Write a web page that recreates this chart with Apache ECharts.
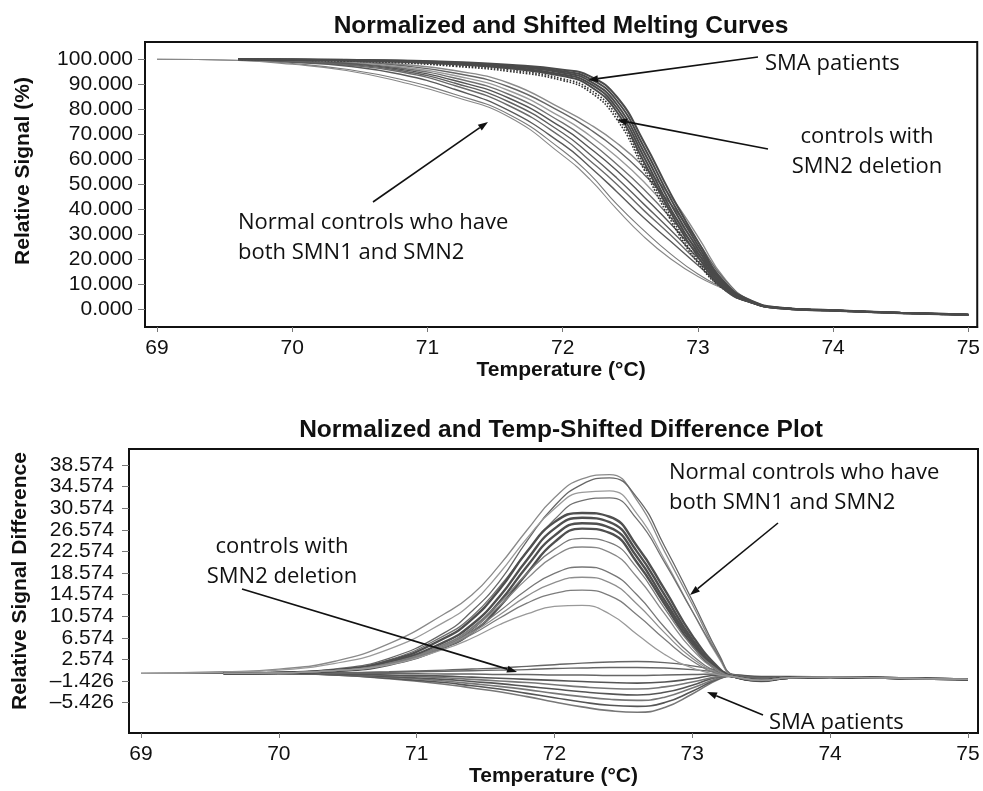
<!DOCTYPE html>
<html>
<head>
<meta charset="utf-8">
<script src="https://cdn.jsdelivr.net/npm/echarts@6/dist/echarts.min.js"></script>
<style>
html, body { margin: 0; background: #fff; }
#chart { width: 983px; height: 791px; }
</style>
</head>
<body>
<div id="chart"></div>
<script>
var meltTemps = [69, 69.6, 70, 70.4, 70.8, 71.2, 71.6, 72, 72.2, 72.4, 72.6, 72.8, 73, 73.2, 73.4, 73.6, 74, 74.5, 75];
var diffTemps = [69, 69.6, 70, 70.4, 70.8, 71.2, 71.4, 71.6, 71.8, 72, 72.2, 72.4, 72.6, 72.8, 73, 73.2, 73.3, 73.5, 73.7, 74, 74.5, 75];

var tempTicks = [69, 70, 71, 72, 73, 74, 75];
var signalTicks = [0, 10, 20, 30, 40, 50, 60, 70, 80, 90, 100];
var diffTicks = [-5.426, -1.426, 2.574, 6.574, 10.574, 14.574, 18.574, 22.574, 26.574, 30.574, 34.574, 38.574];

// melting curves, relative signal (%)
var smaMelt = [
    [null, 100, 99.9, 99.8, 99.5, 98.9, 97.8, 95.8, 93.3, 85, 67, 46, 27, 10.5, 3.2, 0.6, -0.5, -1.5, -2.2],
    [null, 100, 99.9, 99.7, 99.4, 98.7, 97.5, 95.2, 92.3, 83.5, 65, 44, 25.5, 9.8, 3, 0.5, -0.5, -1.5, -2.2],
    [null, 100, 99.9, 99.7, 99.3, 98.5, 97.2, 94.6, 91.3, 82, 63, 42, 24, 9, 2.8, 0.4, -0.6, -1.6, -2.3],
    [null, 100, 99.8, 99.6, 99.1, 98.2, 96.8, 93.9, 90.3, 80.5, 61, 40, 22.5, 8.4, 2.6, 0.3, -0.6, -1.6, -2.3],
    [null, 100, 99.8, 99.5, 99, 98, 96.4, 93.3, 89.3, 79, 59, 38.5, 21, 7.8, 2.5, 0.3, -0.7, -1.7, -2.4]
];
var delMelt = [
    [null, 100, 99.8, 99.4, 98.8, 97.6, 95.8, 92.2, 88, 77.5, 57.5, 37, 19.5, 7.6, 2.5, 0.3, -0.7, -1.7, -2.4],
    [null, 100, 99.7, 99.3, 98.6, 97.2, 95.2, 91.5, 87, 76, 56, 35.5, 18.5, 7.5, 2.4, 0.3, -0.7, -1.7, -2.4]
];
var normalMelt = [
    [null, 99.9, 99.6, 99.2, 98, 95.5, 90.5, 80, 74, 66.5, 57, 45, 29, 12, 3, 0.5, -0.5, -1.5, -2.3],
    [null, 99.9, 99.5, 99, 97.5, 94.5, 89, 78.5, 72, 64, 54, 42, 27, 11.5, 3, 0.5, -0.5, -1.5, -2.3],
    [null, 99.9, 99.4, 98.8, 97, 93.5, 87.5, 76.5, 69.5, 61, 51, 39, 25, 11, 2.9, 0.5, -0.5, -1.5, -2.3],
    [null, 99.9, 99.3, 98.5, 96.5, 92.5, 86, 74.5, 67, 58, 48, 36.5, 23.5, 10.5, 2.9, 0.5, -0.5, -1.5, -2.3],
    [null, 99.9, 99.2, 98.3, 96, 91.5, 84.5, 72.5, 64.5, 55.5, 45, 34, 22, 10, 2.8, 0.5, -0.5, -1.5, -2.3],
    [null, 99.9, 99.1, 98, 95.5, 90.5, 83, 70.5, 62, 52.5, 42, 31.5, 20.5, 9.5, 2.8, 0.5, -0.5, -1.5, -2.3],
    [null, 99.9, 99, 97.7, 95, 89.5, 81.5, 68.5, 59.5, 50, 39.5, 29.5, 19, 9, 2.7, 0.5, -0.5, -1.5, -2.3],
    [null, 99.8, 98.8, 97.3, 94, 88, 79.5, 66, 57, 47, 36.5, 27, 17.5, 8.5, 2.7, 0.5, -0.5, -1.5, -2.3],
    [100, 99.6, 98.3, 96, 92, 86, 78, 63.5, 54, 42, 31.5, 22, 14, 8, 2.6, 0.5, -0.5, -1.5, -2.3],
    [100, 99.5, 98, 95.5, 91, 85, 77, 61.5, 52, 40, 29, 20, 13, 7.8, 2.6, 0.5, -0.5, -1.5, -2.3]
];

// difference plot, relative signal difference
var normalDiff = [
    [0, 0.3, 0.8, 2.2, 5.5, 11, 14.5, 20, 26.5, 32.5, 36, 36.8, 32, 22.5, 12.8, 2.8, -0.5, -1.3, -0.8, -0.7, -0.9, -1.1],
    [null, 0, 0.2, 0.8, 2.8, 7.5, 11.5, 17, 24.5, 31, 35, 36.2, 32.5, 23.5, 13.5, 3.2, -0.4, -1.3, -0.8, -0.7, -0.9, -1.1],
    [0, 0.2, 0.6, 1.8, 4.5, 9.5, 13, 18.5, 25, 30.5, 33.5, 33.8, 29.5, 21, 11.5, 2.5, -0.5, -1.3, -0.8, -0.7, -0.9, -1.1],
    [null, 0, 0.2, 0.7, 2.5, 7, 10.5, 16, 22.5, 28.5, 32, 32.5, 28.5, 20.5, 11.5, 2.8, -0.4, -1.3, -0.8, -0.7, -0.9, -1.1],
    [null, 0, 0.1, 0.6, 2.3, 6.5, 10, 15.5, 22.5, 28, 29.7, 29, 23.5, 15.5, 7, 0.8, -0.6, -1.3, -0.8, -0.7, -0.9, -1.1],
    [null, 0, 0.1, 0.5, 2, 5.8, 9, 14.2, 21, 26.8, 28.8, 28, 22.5, 14.5, 6.3, 0.5, -0.6, -1.3, -0.8, -0.7, -0.9, -1.1],
    [null, 0, 0.1, 0.5, 1.8, 5.2, 8.2, 13.2, 19.8, 25.5, 27.8, 27, 21.5, 13.5, 5.8, 0.3, -0.6, -1.3, -0.8, -0.7, -0.9, -1.1],
    [null, 0, 0.1, 0.4, 1.6, 4.8, 7.5, 12.3, 18.5, 24.3, 26.8, 26, 20.5, 12.8, 5.2, 0.2, -0.6, -1.3, -0.8, -0.7, -0.9, -1.1],
    [null, 0, 0.1, 0.5, 1.9, 5.4, 8.5, 13, 18.5, 23, 25, 24.2, 19.5, 12, 5, 0.4, -0.6, -1.3, -0.8, -0.7, -0.9, -1.1],
    [null, 0, 0.1, 0.5, 1.8, 5.2, 8.2, 12.5, 17.5, 21.7, 23.4, 22.4, 17.8, 11, 4.4, 0.2, -0.6, -1.3, -0.8, -0.7, -0.9, -1.1],
    [null, 0, 0.1, 0.5, 1.8, 5, 7.8, 11.5, 15.5, 18.5, 19.7, 18.6, 14.5, 8.5, 3.3, 0, -0.6, -1.3, -0.8, -0.7, -0.9, -1.1],
    [null, 0, 0.1, 0.5, 1.7, 4.9, 7.5, 10.8, 14.3, 16.8, 17.8, 16.8, 12.8, 7.5, 2.8, -0.1, -0.6, -1.3, -0.8, -0.7, -0.9, -1.1],
    [null, 0, 0.1, 0.5, 1.7, 4.8, 7.2, 10.2, 13, 14.8, 15.4, 14.4, 10.8, 6.3, 2.3, -0.2, -0.6, -1.3, -0.8, -0.7, -0.9, -1.1],
    [null, 0, 0.1, 0.5, 1.6, 4.5, 6.5, 9, 11, 12.4, 12.6, 11, 7.2, 3.5, 1, -0.3, -0.6, -1.3, -0.8, -0.7, -0.9, -1.1]
];
var smaDiff = [
    [null, 0, 0, -0.3, -1, -2, -2.7, -3.4, -4.3, -5.3, -6.2, -6.9, -7.2, -6.3, -3.8, -1, -0.5, -1.5, -0.9, -0.7, -0.9, -1.1],
    [null, 0, 0, -0.3, -0.9, -1.7, -2.3, -2.9, -3.7, -4.5, -5.3, -5.9, -6.1, -5.4, -3.3, -0.9, -0.5, -1.4, -0.9, -0.7, -0.9, -1.1],
    [null, 0, 0, -0.2, -0.7, -1.4, -1.9, -2.4, -3, -3.7, -4.3, -4.8, -5, -4.4, -2.7, -0.8, -0.4, -1.2, -0.8, -0.7, -0.9, -1.1],
    [null, 0, 0, -0.2, -0.6, -1.1, -1.5, -1.9, -2.4, -2.9, -3.4, -3.8, -4, -3.5, -2.2, -0.6, -0.4, -1, -0.8, -0.7, -0.9, -1.1],
    [null, 0, 0, -0.1, -0.4, -0.8, -1.1, -1.4, -1.7, -2.1, -2.5, -2.8, -2.9, -2.5, -1.6, -0.5, -0.3, -0.8, -0.7, -0.7, -0.9, -1.1],
    [null, 0, 0, -0.1, -0.3, -0.5, -0.7, -0.9, -1.1, -1.3, -1.5, -1.7, -1.8, -1.6, -1, -0.3, -0.3, -0.6, -0.6, -0.7, -0.9, -1.1]
];
var delDiff = [
    [null, 0, 0, 0.1, 0.2, 0.4, 0.5, 0.6, 0.7, 0.9, 1, 1.1, 1.1, 1, 0.7, 0.2, -0.3, -0.8, -0.6, -0.7, -0.9, -1.1],
    [0, 0, 0, 0, 0, -0.1, -0.1, -0.2, -0.2, -0.3, -0.3, -0.4, -0.4, -0.3, -0.2, -0.1, -0.4, -0.9, -0.7, -0.7, -0.9, -1.1],
    [null, 0, 0, 0.1, 0.3, 0.6, 0.8, 1, 1.3, 1.6, 1.9, 2.1, 2.2, 2, 1.4, 0.5, -0.2, -0.9, -0.7, -0.7, -0.9, -1.1]
];

var normalGreys = ['#8a8a8a', '#666', '#9a9a9a', '#707070', '#555', '#5f5f5f', '#6a6a6a', '#5a5a5a', '#7a7a7a', '#888', '#777', '#8e8e8e', '#7c7c7c', '#999'];

function pairs(xs, ys) {
    return xs.map(function (x, i) { return [x, ys[i]]; });
}

function curve(xs, ys, axis, color, width, type) {
    return {
        type: 'line',
        xAxisIndex: axis,
        yAxisIndex: axis,
        data: pairs(xs, ys),
        smooth: 0.5,
        showSymbol: false,
        silent: true,
        lineStyle: { color: color, width: width, type: type || 'solid' }
    };
}

var series = [];
normalMelt.forEach(function (ys, i) {
    series.push(curve(meltTemps, ys, 0, normalGreys[i], i > 7 ? 1.1 : 1.4));
});
delMelt.forEach(function (ys) {
    series.push(curve(meltTemps, ys, 0, '#333', 1.6, 'dotted'));
});
smaMelt.forEach(function (ys) {
    series.push(curve(meltTemps, ys, 0, '#4a4a4a', 2));
});
smaDiff.forEach(function (ys, i) {
    series.push(curve(diffTemps, ys, 1, i % 2 ? '#555' : '#777', 1.6));
});
delDiff.forEach(function (ys) {
    series.push(curve(diffTemps, ys, 1, '#666', 1.4));
});
normalDiff.forEach(function (ys, i) {
    var dense = i >= 4 && i <= 7;
    series.push(curve(diffTemps, ys, 1, dense ? '#4f4f4f' : normalGreys[i], dense ? 2.4 : 1.3));
});

var labelFont = 'Liberation Sans, Arial, sans-serif';
var noteFont = '22px "Open Sans", sans-serif';

function fmt(v) {
    return v.toFixed(3).replace('-', '\u2013');
}

function xAxisCfg(grid, min, max, gap) {
    return {
        type: 'value', gridIndex: grid, min: min, max: max,
        name: 'Temperature (\u00B0C)', nameLocation: 'middle', nameGap: gap,
        nameTextStyle: { fontFamily: labelFont, fontWeight: 'bold', fontSize: 21, color: '#111' },
        axisLine: { show: true, onZero: false, lineStyle: { color: '#111', width: 2 } },
        axisTick: { show: true, length: 5, customValues: tempTicks, lineStyle: { color: '#777' } },
        axisLabel: { customValues: tempTicks, margin: 11, fontFamily: labelFont, fontSize: 21, color: '#111', formatter: function (v) { return String(Math.round(v)); } },
        splitLine: { show: false }
    };
}

function yAxisCfg(grid, min, max, ticks, margin) {
    return {
        type: 'value', gridIndex: grid, min: min, max: max,
        axisLine: { show: true, onZero: false, lineStyle: { color: '#111', width: 2 } },
        axisTick: { show: true, length: 7, customValues: ticks, lineStyle: { color: '#777' } },
        axisLabel: { customValues: ticks, margin: margin, fontFamily: labelFont, fontSize: 21, color: '#111', formatter: fmt },
        splitLine: { show: false }
    };
}

function arrow(x1, y1, x2, y2) {
    var a = Math.atan2(y2 - y1, x2 - x1), L = 10, W = 3.5;
    var bx = x2 - L * Math.cos(a), by = y2 - L * Math.sin(a);
    return [
        { type: 'line', z: 100, shape: { x1: x1, y1: y1, x2: bx, y2: by }, style: { stroke: '#111', lineWidth: 1.6 } },
        { type: 'polygon', z: 100, shape: { points: [[x2, y2], [bx + W * Math.sin(a), by - W * Math.cos(a)], [bx - W * Math.sin(a), by + W * Math.cos(a)]] }, style: { fill: '#111' } }
    ];
}

function note(text, x, y, align) {
    return { type: 'text', z: 100, x: x, y: y, style: { text: text, font: noteFont, fill: '#111', textAlign: align || 'left', textVerticalAlign: 'middle' } };
}

function heading(text, x, y) {
    return { type: 'text', z: 100, x: x, y: y, style: { text: text, font: 'bold 24.5px ' + labelFont, fill: '#111', textAlign: 'center', textVerticalAlign: 'middle' } };
}

function yName(text, x, y) {
    return { type: 'text', z: 100, x: x, y: y, rotation: Math.PI / 2, style: { text: text, font: 'bold 21px ' + labelFont, fill: '#111', textAlign: 'center', textVerticalAlign: 'middle' } };
}

var graphics = [
    heading('Normalized and Shifted Melting Curves', 561, 26),
    heading('Normalized and Temp-Shifted Difference Plot', 561, 430),
    yName('Relative Signal (%)', 23, 171),
    yName('Relative Signal Difference', 20, 581),
    note('SMA patients', 765, 64),
    note('controls with', 867, 137, 'center'),
    note('SMN2 deletion', 867, 167, 'center'),
    note('Normal controls who have', 238, 223),
    note('both SMN1 and SMN2', 238, 253),
    note('Normal controls who have', 669, 473),
    note('both SMN1 and SMN2', 669, 503),
    note('controls with', 282, 547, 'center'),
    note('SMN2 deletion', 282, 577, 'center'),
    note('SMA patients', 769, 723)
].concat(
    arrow(758, 57, 588, 80),
    arrow(768, 149, 617, 120),
    arrow(373, 202, 488, 122),
    arrow(778, 523, 690, 595),
    arrow(242, 589, 517, 672),
    arrow(763, 715, 707, 692)
);

var chart = echarts.init(document.getElementById('chart'));
chart.setOption({
    backgroundColor: '#fff',
    animation: false,
    grid: [
        { left: 145, top: 42, width: 834, height: 285, show: true, borderColor: '#111', borderWidth: 2 },
        { left: 129, top: 449, width: 849, height: 284, show: true, borderColor: '#111', borderWidth: 2 }
    ],
    xAxis: [
        xAxisCfg(0, 68.911, 75.066, 32),
        xAxisCfg(1, 68.913, 75.073, 32)
    ],
    yAxis: [
        yAxisCfg(0, -7.21, 106.93, signalTicks, 12),
        yAxisCfg(1, -11.035, 41.54, diffTicks, 15)
    ],
    graphic: graphics,
    series: series
});
</script>
</body>
</html>
